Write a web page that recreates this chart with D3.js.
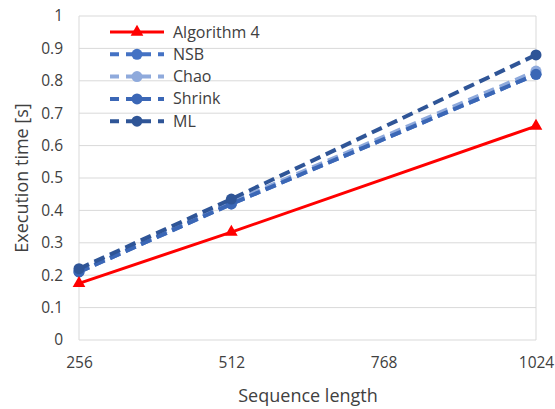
<!DOCTYPE html>
<html><head><meta charset="utf-8">
<script src="https://cdn.jsdelivr.net/npm/d3@7"></script>
<style>body{margin:0;background:#fff;}svg{display:block;font-family:"Open Sans",sans-serif;}</style>
</head><body><svg id="c" width="555" height="409"></svg>
<script>
const xValues = [256, 512, 1024];
const xTicks = [256, 512, 768, 1024];
const yTicks = [0,0.1,0.2,0.3,0.4,0.5,0.6,0.7,0.8,0.9,1];
const seriesNames = ["Algorithm 4", "NSB", "Chao", "Shrink", "ML"];
const alg4 = [0.175, 0.333, 0.66];
const nsb = [0.21, 0.42, 0.82];
const chao = [0.215, 0.425, 0.83];
const shrink = [0.21, 0.42, 0.82];
const ml = [0.22, 0.435, 0.88];
const colors = ["#FF0000", "#4472C4", "#8FAADC", "#3B67B6", "#2F5597"];
const seriesValues = [alg4, nsb, chao, shrink, ml];

const svg = d3.select("#c");
const L = 79, R = 536, T = 16, B = 340;
const x = d3.scaleLinear().domain([256, 1024]).range([L, R]);
const y = d3.scaleLinear().domain([0, 1]).range([B, T]);

// gridlines
svg.append("g").selectAll("line").data(yTicks).join("line")
  .attr("x1", L).attr("x2", R).attr("y1", d => y(d)).attr("y2", d => y(d))
  .attr("stroke", "#d9d9d9").attr("stroke-width", 1);
svg.append("line").attr("x1", L).attr("x2", L).attr("y1", T).attr("y2", B).attr("stroke", "#d9d9d9");
svg.append("line").attr("x1", R).attr("x2", R).attr("y1", T).attr("y2", B).attr("stroke", "#d9d9d9");

// axes
const yAxis = d3.axisLeft(y).tickValues(yTicks).tickSize(0).tickPadding(16).tickFormat(d => d3.format("")(+d.toFixed(1)));
const gy = svg.append("g").attr("transform", `translate(${L},0)`).call(yAxis);
gy.select(".domain").remove();
gy.selectAll("text").attr("font-size", 15.5).attr("fill", "#404040").attr("font-family", "Open Sans");

const xAxis = d3.axisBottom(x).tickValues(xTicks).tickSize(0).tickPadding(17).tickFormat(d3.format("d"));
const gx = svg.append("g").attr("transform", `translate(0,${B})`).call(xAxis);
gx.select(".domain").remove();
gx.selectAll("text").attr("font-size", 15.5).attr("fill", "#404040").attr("font-family", "Open Sans");

svg.append("text").attr("x", 308).attr("y", 402).attr("text-anchor", "middle")
  .attr("font-size", 18).attr("fill", "#404040").text("Sequence length");
svg.append("text").attr("transform", `translate(28,${(T + B) / 2}) rotate(-90)`).attr("text-anchor", "middle")
  .attr("font-size", 18).attr("fill", "#404040").text("Execution time [s]");

const line = d3.line().x((d, i) => x(xValues[i])).y(d => y(d));
const tri = d3.symbol().type(d3.symbolTriangle).size(70);

const order = [1, 2, 3, 4, 0];
order.forEach(k => {
  const vals = seriesValues[k];
  const g = svg.append("g");
  g.append("path").attr("d", line(vals)).attr("fill", "none").attr("stroke", colors[k])
    .attr("stroke-width", k === 0 ? 3 : 4)
    .attr("stroke-dasharray", k === 0 ? null : "11,6");
  if (k === 0) {
    g.selectAll("path.m").data(vals).join("path").attr("class", "m")
      .attr("transform", (d, i) => `translate(${x(xValues[i])},${y(d)})`)
      .attr("d", tri).attr("fill", colors[k]);
  } else {
    g.selectAll("circle").data(vals).join("circle")
      .attr("cx", (d, i) => x(xValues[i])).attr("cy", d => y(d)).attr("r", 5.5).attr("fill", colors[k]);
  }
});

// legend
const lg = svg.append("g");
seriesNames.forEach((name, k) => {
  const yy = 32 + k * 22.3;
  const gg = lg.append("g");
  gg.append("line").attr("x1", 110).attr("x2", 164).attr("y1", yy).attr("y2", yy)
    .attr("stroke", colors[k]).attr("stroke-width", k === 0 ? 3 : 4)
    .attr("stroke-dasharray", k === 0 ? null : "9,7");
  if (k === 0) {
    gg.append("path").attr("transform", `translate(137,${yy})`).attr("d", tri).attr("fill", colors[k]);
  } else {
    gg.append("circle").attr("cx", 137).attr("cy", yy).attr("r", 5.5).attr("fill", colors[k]);
  }
  gg.append("text").attr("x", 173).attr("y", yy + 5.5).attr("font-size", 16).attr("fill", "#404040").text(name);
});
</script></body></html>
